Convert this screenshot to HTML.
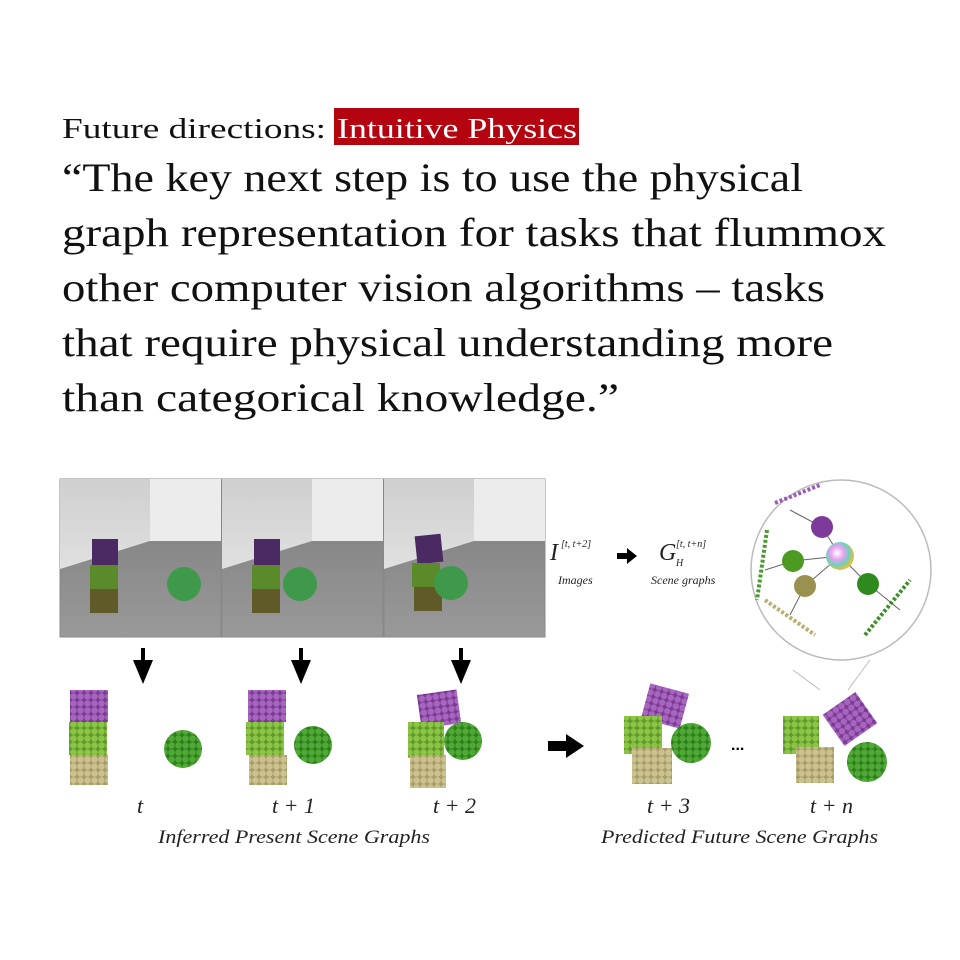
<!DOCTYPE html>
<html><head><meta charset="utf-8"><style>
html,body{margin:0;padding:0;background:#fff;width:960px;height:960px;overflow:hidden}
svg{display:block}
</style></head><body>
<svg width="960" height="960" viewBox="0 0 960 960" xmlns="http://www.w3.org/2000/svg">
<defs>
<linearGradient id="wall" x1="0" y1="0" x2="0" y2="1"><stop offset="0" stop-color="#cfcfcf"/><stop offset="1" stop-color="#e0e0e0"/></linearGradient>
<linearGradient id="floor" x1="0" y1="0" x2="0" y2="1"><stop offset="0" stop-color="#7c7c7c"/><stop offset="1" stop-color="#999"/></linearGradient>
<pattern id="pPurple" width="7" height="7" patternUnits="userSpaceOnUse"><rect width="7" height="7" fill="#7a3c93"/><circle cx="3.5" cy="3.5" r="3.2" fill="#a865c0"/></pattern>
<pattern id="pLime" width="7" height="7" patternUnits="userSpaceOnUse"><rect width="7" height="7" fill="#5e9a2a"/><circle cx="3.5" cy="3.5" r="3.2" fill="#8cc446"/></pattern>
<pattern id="pTan" width="7" height="7" patternUnits="userSpaceOnUse"><rect width="7" height="7" fill="#a89e6a"/><circle cx="3.5" cy="3.5" r="3.2" fill="#cbc28f"/></pattern>
<pattern id="pGreen" width="7" height="7" patternUnits="userSpaceOnUse"><rect width="7" height="7" fill="#2e7f1d"/><circle cx="3.5" cy="3.5" r="3.2" fill="#4faa35"/></pattern>
<radialGradient id="rainbow" cx="0.4" cy="0.4" r="0.6"><stop offset="0" stop-color="#fff"/><stop offset="0.4" stop-color="#e8a0f0"/><stop offset="0.7" stop-color="#70d0c0"/><stop offset="1" stop-color="#e0c040"/></radialGradient>
</defs>

<g font-family="'Liberation Serif', serif" fill="#111">
<text x="62" y="138" font-size="28" textLength="264" lengthAdjust="spacingAndGlyphs">Future directions:</text>
<rect x="334" y="108" width="245" height="37" fill="#b3040f"/>
<text x="337" y="138" font-size="28" fill="#fff" textLength="240" lengthAdjust="spacingAndGlyphs">Intuitive Physics</text>
<g font-size="40">
<text x="62" y="191" textLength="741" lengthAdjust="spacingAndGlyphs">“The key next step is to use the physical</text>
<text x="62" y="246" textLength="824" lengthAdjust="spacingAndGlyphs">graph representation for tasks that flummox</text>
<text x="62" y="301" textLength="763" lengthAdjust="spacingAndGlyphs">other computer vision algorithms – tasks</text>
<text x="62" y="356" textLength="771" lengthAdjust="spacingAndGlyphs">that require physical understanding more</text>
<text x="62" y="411" textLength="557" lengthAdjust="spacingAndGlyphs">than categorical knowledge.”</text>
</g>
</g>

<g>
<g transform="translate(60,479)">
<rect width="161" height="158" fill="url(#floor)" stroke="#888"/><polygon points="0,0 161,0 161,62 90,62 0,90" fill="url(#wall)"/><rect x="90" y="0" width="71" height="62" fill="#ececec"/>
<rect x="32" y="60" width="26" height="26" fill="#4b2a63"/><rect x="30" y="86" width="28" height="24" fill="#5a8a2a"/><rect x="30" y="110" width="28" height="24" fill="#5f5a28"/><circle cx="124" cy="105" r="17" fill="#3e9a4a"/></g>
<g transform="translate(222,479)">
<rect width="161" height="158" fill="url(#floor)" stroke="#888"/><polygon points="0,0 161,0 161,62 90,62 0,90" fill="url(#wall)"/><rect x="90" y="0" width="71" height="62" fill="#ececec"/>
<rect x="32" y="60" width="26" height="26" fill="#4b2a63"/><rect x="30" y="86" width="28" height="24" fill="#5a8a2a"/><rect x="30" y="110" width="28" height="24" fill="#5f5a28"/><circle cx="78" cy="105" r="17" fill="#3e9a4a"/></g>
<g transform="translate(384,479)">
<rect width="161" height="158" fill="url(#floor)" stroke="#888"/><polygon points="0,0 161,0 161,62 90,62 0,90" fill="url(#wall)"/><rect x="90" y="0" width="71" height="62" fill="#ececec"/>
<rect x="32" y="56" width="26" height="28" fill="#4b2a63" transform="rotate(-6 45 70)"/><rect x="28" y="84" width="28" height="24" fill="#5a8a2a"/><rect x="30" y="108" width="28" height="24" fill="#5f5a28"/><circle cx="67" cy="104" r="17" fill="#3e9a4a"/></g>
</g>

<g fill="#000">
<g transform="translate(143,648)"><rect x="-2" y="0" width="4" height="20"/><polygon points="-10,12 10,12 0,36"/></g>
<g transform="translate(301,648)"><rect x="-2" y="0" width="4" height="20"/><polygon points="-10,12 10,12 0,36"/></g>
<g transform="translate(461,648)"><rect x="-2" y="0" width="4" height="20"/><polygon points="-10,12 10,12 0,36"/></g>
</g>

<g font-family="'Liberation Serif', serif" font-style="italic" fill="#222">
<text x="550" y="560" font-size="24">I</text><text x="561" y="547" font-size="10">[t, t+2]</text>
<text x="558" y="584" font-size="12">Images</text>
<polygon points="617,553 627,553 627,548 637,556 627,564 627,559 617,559" fill="#000"/>
<text x="659" y="560" font-size="24">G</text><text x="676" y="547" font-size="10">[t, t+n]</text><text x="676" y="566" font-size="10">H</text>
<text x="651" y="584" font-size="12">Scene graphs</text>
</g>

<g>
<circle cx="841" cy="570" r="90" fill="#fff" stroke="#bbb" stroke-width="1.5"/>
<line x1="793" y1="670" x2="820" y2="690" stroke="#bbb"/><line x1="870" y1="660" x2="848" y2="690" stroke="#bbb"/>
<g stroke="#666" stroke-width="1"><line x1="840" y1="556" x2="822" y2="527"/><line x1="840" y1="556" x2="793" y2="561"/><line x1="840" y1="556" x2="805" y2="586"/><line x1="840" y1="556" x2="868" y2="584"/>
<line x1="822" y1="527" x2="790" y2="510"/><line x1="793" y1="561" x2="765" y2="570"/><line x1="805" y1="586" x2="790" y2="615"/><line x1="868" y1="584" x2="900" y2="610"/></g>
<line x1="775" y1="503" x2="820" y2="485" stroke="#9a5bb5" stroke-width="4" stroke-dasharray="3 2"/>
<line x1="767" y1="530" x2="757" y2="600" stroke="#4a9a30" stroke-width="4" stroke-dasharray="3 2"/>
<line x1="765" y1="600" x2="815" y2="635" stroke="#b8ae70" stroke-width="4" stroke-dasharray="3 2"/>
<line x1="865" y1="635" x2="910" y2="580" stroke="#3e8f28" stroke-width="4" stroke-dasharray="3 2"/>
<circle cx="822" cy="527" r="11" fill="#7c3a9a"/><circle cx="793" cy="561" r="11" fill="#4c9a22"/>
<circle cx="840" cy="556" r="14" fill="url(#rainbow)"/><circle cx="805" cy="586" r="11" fill="#9a9050"/><circle cx="868" cy="584" r="11" fill="#2f8a1e"/>
</g>

<g>
<g><rect x="70" y="690" width="38" height="32" fill="url(#pPurple)"/><rect x="69" y="722" width="38" height="33" fill="url(#pLime)"/><rect x="70" y="755" width="38" height="30" fill="url(#pTan)"/><circle cx="183" cy="749" r="19" fill="url(#pGreen)"/></g>
<g><rect x="248" y="690" width="38" height="32" fill="url(#pPurple)"/><rect x="246" y="722" width="38" height="33" fill="url(#pLime)"/><rect x="249" y="755" width="38" height="30" fill="url(#pTan)"/><circle cx="313" cy="745" r="19" fill="url(#pGreen)"/></g>
<g><rect x="419" y="692" width="40" height="34" fill="url(#pPurple)" transform="rotate(-8 439 709)"/><rect x="408" y="722" width="36" height="36" fill="url(#pLime)"/><rect x="410" y="755" width="36" height="33" fill="url(#pTan)"/><circle cx="463" cy="741" r="19" fill="url(#pGreen)"/></g>
<g><rect x="645" y="688" width="40" height="36" fill="url(#pPurple)" transform="rotate(15 665 706)"/><rect x="624" y="716" width="38" height="38" fill="url(#pLime)"/><rect x="632" y="748" width="40" height="36" fill="url(#pTan)"/><circle cx="691" cy="743" r="20" fill="url(#pGreen)"/></g>
<g><rect x="830" y="700" width="40" height="38" fill="url(#pPurple)" transform="rotate(-35 850 719)"/><rect x="783" y="716" width="36" height="38" fill="url(#pLime)"/><rect x="796" y="747" width="38" height="36" fill="url(#pTan)"/><circle cx="867" cy="762" r="20" fill="url(#pGreen)"/></g>
<polygon points="548,741 566,741 566,734 584,746 566,758 566,751 548,751" fill="#000"/>
<text x="731" y="750" font-family="'Liberation Sans', sans-serif" font-size="16" font-weight="bold">...</text>
</g>

<g font-family="'Liberation Serif', serif" font-style="italic" fill="#222">
<text x="137" y="813" font-size="22">t</text>
<text x="272" y="813" font-size="22">t + 1</text>
<text x="433" y="813" font-size="22">t + 2</text>
<text x="647" y="813" font-size="22">t + 3</text>
<text x="810" y="813" font-size="22">t + n</text>
<text x="158" y="843" font-size="19" textLength="272" lengthAdjust="spacingAndGlyphs">Inferred Present Scene Graphs</text>
<text x="601" y="843" font-size="19" textLength="277" lengthAdjust="spacingAndGlyphs">Predicted Future Scene Graphs</text>
</g>
</svg>
</body></html>
